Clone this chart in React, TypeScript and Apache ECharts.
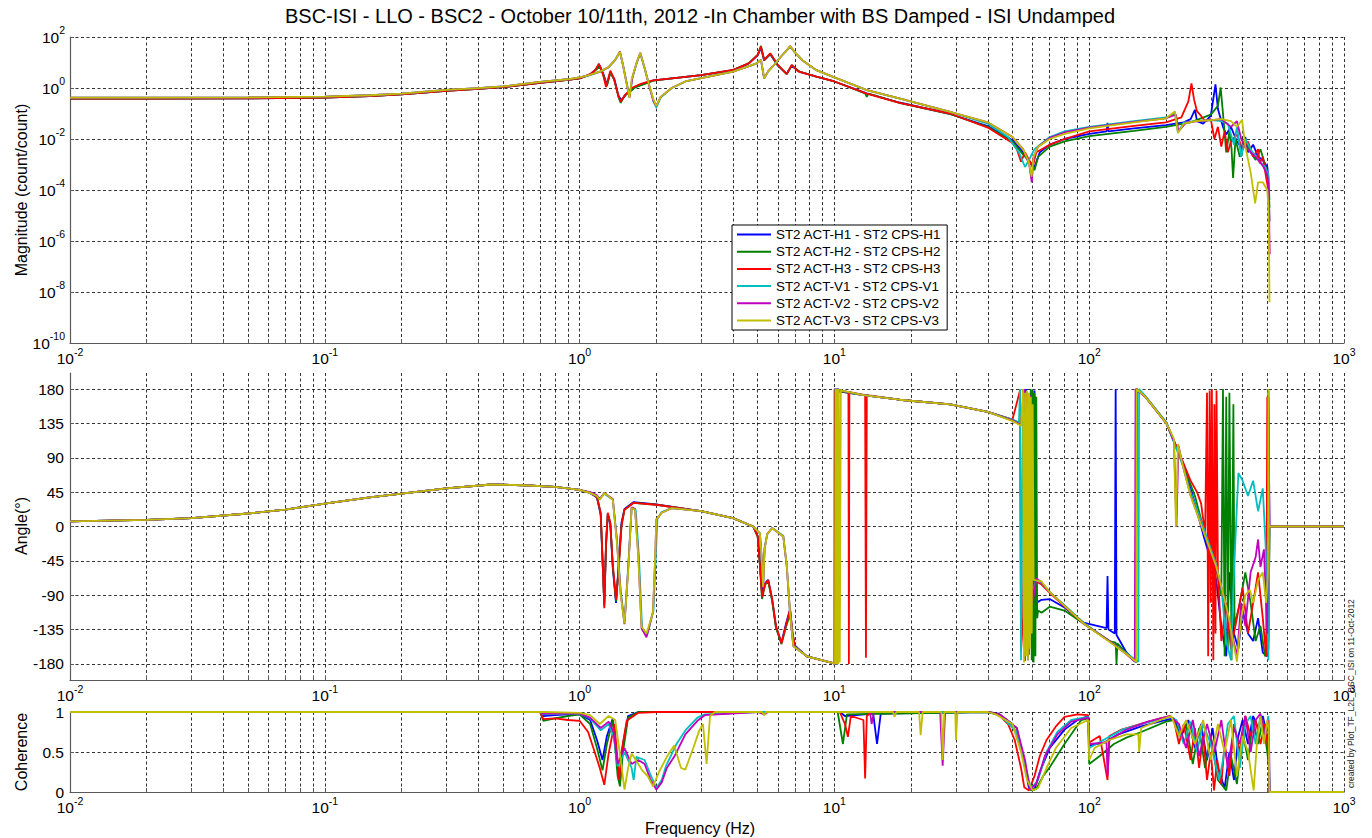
import React, { useEffect, useRef } from 'react';
import * as echarts from 'echarts';

const FONT = "'Liberation Sans', Arial, Helvetica, sans-serif";

const TITLE = 'BSC-ISI - LLO - BSC2 - October 10/11th, 2012 -In Chamber with BS Damped - ISI Undamped';
const STAMP = 'created by Plot_TF_L2L_BSC_ISI on 11-Oct-2012';

const SERIES_NAMES = [
  'ST2 ACT-H1 - ST2 CPS-H1',
  'ST2 ACT-H2 - ST2 CPS-H2',
  'ST2 ACT-H3 - ST2 CPS-H3',
  'ST2 ACT-V1 - ST2 CPS-V1',
  'ST2 ACT-V2 - ST2 CPS-V2',
  'ST2 ACT-V3 - ST2 CPS-V3',
];
const SERIES_COLORS = ['#0000ff', '#008000', '#ff0000', '#00bfbf', '#bf00bf', '#bfbf00'];

// Tick labels: decades of frequency (Hz) and magnitude, angle and coherence ticks
const FREQ_DECADES = [-2, -1, 0, 1, 2, 3];
const MAG_DECADES = [-10, -8, -6, -4, -2, 0, 2];
const ANGLE_TICKS = [-180, -135, -90, -45, 0, 45, 90, 135, 180];
const COH_TICKS = [0, 0.5, 1];

type Pt = [number, number];

// ---------- magnitude (count/count) vs frequency (Hz) ----------
const magLowH: Pt[] = [[0.01, 0.38], [0.02, 0.38], [0.05, 0.39], [0.1, 0.42], [0.15, 0.48], [0.2, 0.56], [0.3, 0.78], [0.4, 0.92], [0.5, 1.08], [0.7, 1.6], [0.9, 2.1], [1.0, 2.4]];
const magLowV: Pt[] = [[0.01, 0.42], [0.02, 0.42], [0.05, 0.43], [0.1, 0.46], [0.15, 0.52], [0.2, 0.6], [0.3, 0.84], [0.4, 0.98], [0.5, 1.15], [0.7, 1.75], [0.9, 2.2], [1.0, 2.6]];

const magH1: Pt[] = [...magLowH,
  [1.1, 3.4], [1.16, 5.5], [1.2, 7.5], [1.24, 3.5], [1.28, 1.3], [1.32, 4.2], [1.37, 2.2], [1.42, 0.5], [1.46, 0.33], [1.52, 0.55], [1.65, 1.1], [1.95, 2.0], [2.5, 2.6], [3.0, 3.2], [4.0, 5.0], [4.6, 9.0], [5.0, 19], [5.15, 38], [5.3, 12], [5.6, 21], [6.0, 7.5], [6.5, 3.6], [6.8, 7.5], [7.3, 4.3], [8.5, 2.8], [10, 1.8], [13.4, 0.62], [18, 0.27], [28, 0.1], [40, 0.032], [50, 0.009], [55, 0.003], [58, 0.0012], [61, 0.0008], [64, 0.003], [70, 0.006], [80, 0.01], [100, 0.016], [117, 0.02], [118, 0.043], [119, 0.02], [150, 0.026], [200, 0.035], [235, 0.045], [250, 0.06], [260, 0.14], [265, 0.05], [280, 0.04], [300, 0.08], [313, 1.4], [320, 0.15], [335, 0.03], [345, 0.015], [360, 0.03], [380, 0.008], [400, 0.004], [410, 0.012], [420, 0.003], [440, 0.006], [460, 0.002], [480, 0.0015], [500, 0.0008], [505, 0.0003], [510, 6e-6]];

const magH2: Pt[] = [...magLowH,
  [1.1, 3.3], [1.16, 5.2], [1.2, 7], [1.24, 3.2], [1.28, 1.2], [1.32, 4], [1.37, 2], [1.42, 0.45], [1.45, 0.26], [1.5, 0.5], [1.65, 1.05], [1.95, 1.95], [2.5, 2.6], [3.0, 3.2], [4.0, 5.0], [4.6, 9.2], [5.0, 20], [5.15, 45], [5.3, 12.5], [5.6, 22], [6.0, 7.8], [6.5, 3.5], [6.8, 7.8], [7.3, 4.4], [8.5, 2.8], [10, 1.8], [13.2, 0.62], [13.4, 0.45], [13.6, 0.6], [18, 0.26], [28, 0.1], [40, 0.03], [50, 0.008], [55, 0.0025], [59, 0.0012], [61, 0.0006], [63, 0.002], [70, 0.005], [80, 0.008], [100, 0.013], [150, 0.021], [200, 0.03], [250, 0.045], [300, 0.09], [320, 0.2], [328, 1.05], [335, 0.1], [345, 0.003], [355, 0.02], [362, 0.004], [367, 0.0003], [375, 0.01], [390, 0.002], [410, 0.008], [430, 0.003], [450, 0.0015], [470, 0.004], [490, 0.001], [505, 0.0002], [510, 2e-5]];

const magH3: Pt[] = [...magLowH,
  [1.1, 3.5], [1.15, 5], [1.19, 9], [1.23, 4], [1.27, 1.1], [1.32, 4.8], [1.36, 2.5], [1.42, 0.5], [1.45, 0.29], [1.5, 0.5], [1.6, 1.0], [1.75, 1.5], [1.94, 2.0], [2.5, 2.6], [3.0, 3.2], [4.0, 5.1], [4.65, 9.6], [5.0, 20], [5.15, 42], [5.3, 12.6], [5.6, 23], [6.0, 8], [6.5, 3.5], [6.8, 8], [7.2, 4.5], [8.5, 2.8], [10, 1.8], [13.4, 0.6], [18, 0.26], [28.4, 0.1], [40, 0.028], [50, 0.007], [52, 0.004], [54, 0.0013], [56, 0.003], [60, 0.0008], [62, 0.003], [70, 0.006], [80, 0.01], [100, 0.02], [150, 0.033], [200, 0.045], [230, 0.07], [245, 0.3], [252, 1.5], [258, 0.35], [265, 0.12], [275, 0.08], [285, 0.05], [300, 0.06], [310, 0.01], [320, 0.03], [330, 0.005], [340, 0.02], [350, 0.003], [360, 0.008], [380, 0.015], [400, 0.004], [420, 0.008], [440, 0.002], [460, 0.004], [467, 0.0011], [480, 0.002], [495, 0.0003], [505, 0.0001], [510, 3e-7]];

const magV1: Pt[] = [...magLowV,
  [1.1, 3.2], [1.2, 4.3], [1.3, 6.4], [1.38, 12.5], [1.44, 25], [1.48, 8], [1.53, 1.6], [1.57, 0.45], [1.61, 2.4], [1.67, 8.5], [1.73, 23], [1.8, 6], [1.88, 1.2], [1.95, 0.3], [2.0, 0.17], [2.08, 0.42], [2.3, 1.0], [2.6, 1.8], [3.0, 2.45], [4.0, 4.4], [4.6, 7], [4.95, 9.3], [5.15, 12.6], [5.3, 2.4], [5.5, 4.5], [5.8, 8], [6.2, 18], [6.5, 30], [6.7, 42], [7.0, 25], [7.5, 12], [8.5, 5], [10, 2.6], [13.4, 0.83], [17.8, 0.4], [28, 0.12], [40, 0.04], [48, 0.012], [53, 0.003], [56, 0.0008], [58, 0.0015], [61, 0.004], [70, 0.012], [80, 0.02], [100, 0.03], [150, 0.05], [200, 0.07], [217, 0.1], [223, 0.018], [235, 0.045], [260, 0.05], [300, 0.055], [330, 0.05], [350, 0.04], [370, 0.006], [380, 0.03], [395, 0.002], [410, 0.01], [430, 0.004], [450, 0.002], [470, 0.0012], [490, 0.0008], [505, 0.0004], [510, 4e-5]];

const magV2: Pt[] = [...magLowV,
  [1.1, 3.3], [1.2, 4.4], [1.3, 6.6], [1.38, 13], [1.44, 27], [1.48, 8], [1.53, 1.5], [1.57, 0.42], [1.61, 2.5], [1.67, 9], [1.73, 24], [1.8, 6], [1.88, 1.1], [1.95, 0.3], [2.0, 0.2], [2.08, 0.45], [2.3, 1.0], [2.6, 1.8], [3.0, 2.45], [4.0, 4.4], [4.6, 7], [4.95, 9.3], [5.15, 12.6], [5.3, 2.4], [5.5, 4.6], [5.8, 8], [6.2, 18], [6.5, 30], [6.7, 44], [7.0, 25], [7.5, 12], [8.5, 5], [10, 2.6], [13.4, 0.83], [17.8, 0.4], [28, 0.12], [40, 0.045], [50, 0.012], [55, 0.004], [58, 0.0012], [59.5, 0.0002], [60.5, 0.002], [63, 0.005], [70, 0.011], [80, 0.018], [100, 0.028], [150, 0.047], [200, 0.065], [219, 0.09], [224, 0.02], [240, 0.045], [270, 0.05], [300, 0.055], [330, 0.06], [360, 0.03], [380, 0.05], [395, 0.01], [410, 0.005], [430, 0.003], [450, 0.002], [480, 0.0009], [500, 0.0004], [508, 1e-4], [510, 3e-7]];

const magV3: Pt[] = [...magLowV,
  [1.1, 3.3], [1.2, 4.4], [1.3, 6.5], [1.38, 13], [1.44, 26], [1.48, 8], [1.52, 2], [1.55, 0.8], [1.57, 0.4], [1.6, 2.2], [1.67, 9], [1.73, 24], [1.8, 6], [1.88, 1.2], [1.95, 0.35], [2.0, 0.2], [2.08, 0.45], [2.3, 1.0], [2.6, 1.8], [3.0, 2.45], [4.0, 4.4], [4.6, 7], [4.95, 9.3], [5.15, 12.6], [5.3, 2.4], [5.5, 4.5], [5.8, 8], [6.2, 18], [6.5, 30], [6.7, 44], [7.0, 25], [7.5, 12], [8.5, 5], [10, 2.6], [13.4, 0.83], [17.8, 0.4], [28, 0.12], [40, 0.045], [50, 0.012], [55, 0.004], [58, 0.0012], [59.4, 0.00033], [60.5, 0.002], [63, 0.005], [70, 0.01], [80, 0.016], [100, 0.026], [150, 0.045], [200, 0.065], [217, 0.12], [223, 0.017], [235, 0.04], [260, 0.05], [300, 0.055], [330, 0.06], [360, 0.05], [380, 0.03], [398, 0.056], [410, 0.005], [430, 0.0005], [448, 3e-5], [460, 0.0002], [480, 0.0002], [500, 0.0001], [505, 2e-5], [508, 5e-7], [510, 4e-9]];

// ---------- phase (degrees) vs frequency (Hz) ----------
const phaseLow: Pt[] = [[0.01, 6.6], [0.02, 8.8], [0.03, 11], [0.05, 17], [0.07, 22], [0.1, 30], [0.15, 38], [0.2, 43], [0.3, 50], [0.45, 55], [0.6, 54], [0.8, 52], [1.0, 48]];

const phaseH1: Pt[] = [...phaseLow,
  [1.1, 44], [1.17, 38], [1.21, 15], [1.23, -45], [1.25, -100], [1.27, -25], [1.29, 16], [1.32, 3], [1.35, -55], [1.39, -100], [1.42, -55], [1.46, 5], [1.5, 23], [1.63, 32], [2.0, 29], [3.0, 20], [4.0, 11], [4.8, 0], [5.0, -13], [5.1, -48], [5.2, -88], [5.35, -74], [5.5, -70], [5.7, -96], [5.9, -132], [6.2, -152], [6.45, -128], [6.7, -108], [6.85, -140], [7.0, -156], [7.8, -170], [9.9, -179], [10.0, -180], [10.02, 180], [10.4, 177], [13, 172], [18, 166], [28.5, 160], [40, 150], [50, 139], [55, 132], [56.5, 180], [57.5, -175], [59, 170], [60, -150], [61, 178], [62, -100], [65, -96], [70, -95], [80, -106], [95, -126], [117, -133], [118, -65], [119, -135], [126, -140], [127, 180], [128, -142], [140, -165], [152, -177], [153.5, 180], [166, 170], [201, 136], [233, 84], [260, 30], [280, -10], [300, -45], [315, -70], [330, -130], [345, -170], [355, -60], [370, -140], [385, -160], [400, -110], [420, -140], [440, -150], [460, -120], [480, -165], [500, -170], [505, 180], [510, 0], [1000, 0]];

const phaseH2: Pt[] = [...phaseLow,
  [1.1, 44], [1.17, 39], [1.21, 17], [1.23, -42], [1.25, -104], [1.27, -22], [1.29, 17], [1.32, 4], [1.35, -52], [1.39, -98], [1.42, -58], [1.46, 2], [1.5, 22], [1.63, 31], [2.0, 28.5], [3.0, 20], [4.0, 11], [4.8, 0], [5.0, -13], [5.1, -50], [5.2, -95], [5.35, -76], [5.5, -72], [5.7, -98], [5.9, -133], [6.2, -154], [6.45, -132], [6.7, -115], [6.85, -142], [7.0, -157], [7.8, -170], [9.9, -179], [10.08, -180], [10.1, 180], [10.14, -180], [10.18, 180], [10.5, 177], [13, 172], [18, 166], [28.5, 160], [40, 150], [50, 140], [58, 130], [59, 180], [59.5, -175], [60, 178], [60.5, -178], [61, 175], [61.5, -170], [62, 170], [62.5, -120], [63, -110], [65, -113], [70, -105], [80, -110], [95, -127], [120, -150], [127, -152], [128, -180], [129, -153], [140, -166], [153, -178], [154, 180], [166, 170], [201, 135], [233, 82], [260, 40], [290, -20], [315, -55], [330, -90], [335, 180], [340, -170], [345, 170], [350, -160], [355, 175], [362, -175], [368, 160], [372, -130], [390, -100], [410, -60], [430, -100], [450, -150], [470, -130], [490, -170], [505, -160], [510, 0], [1000, 0]];

const phaseH3: Pt[] = [...phaseLow,
  [1.1, 44], [1.17, 39], [1.21, 18], [1.23, -40], [1.25, -107], [1.27, -20], [1.29, 18], [1.32, 5], [1.35, -50], [1.39, -96], [1.42, -60], [1.46, 0], [1.5, 22], [1.63, 31], [2.0, 28.5], [3.0, 20], [4.0, 11], [4.8, 0], [5.0, -13], [5.1, -50], [5.2, -92], [5.35, -75], [5.5, -70], [5.7, -95], [5.9, -130], [6.2, -153], [6.45, -130], [6.7, -109], [6.85, -140], [7.0, -157], [7.8, -170], [9.9, -179], [10.05, -180], [10.08, 180], [10.12, -180], [10.16, 178], [10.25, 177], [10.3, 2], [10.35, 177], [10.8, 177], [11.35, 176], [11.4, -180], [11.45, 176], [13.2, 172], [13.3, -172], [13.4, 172], [18, 166], [28.5, 160], [40, 150], [50, 140], [53.5, 178], [54, -164], [55, -120], [56, 178], [57, -150], [60, -80], [62, -72], [65, -76], [70, -87], [80, -105], [95, -127], [120, -150], [140, -167], [152, -177], [153, 180], [166, 170], [201, 135], [233, 85], [250, 60], [265, 45], [275, 30], [285, -10], [290, 175], [293, -170], [297, 178], [300, -100], [303, 180], [307, -175], [310, 160], [313, -140], [316, 178], [320, -60], [330, -150], [345, -100], [360, -160], [380, -120], [400, -80], [420, -140], [440, -100], [460, -60], [480, -120], [495, -170], [500, 170], [505, -150], [510, 0], [1000, 0]];

const phaseV1: Pt[] = [...phaseLow,
  [1.1, 44], [1.17, 40], [1.2, 36], [1.25, 43], [1.35, 35], [1.4, -15], [1.45, -85], [1.5, -125], [1.55, -55], [1.6, 24], [1.66, 22], [1.71, -40], [1.76, -135], [1.84, -142], [1.95, -110], [1.99, -40], [2.02, 10], [2.1, 19], [2.3, 24], [3.0, 20], [4.0, 11], [4.8, 0], [5.1, -9], [5.18, -42], [5.25, -78], [5.32, -28], [5.45, -10], [5.7, -2], [6.3, -12], [6.5, -52], [6.7, -113], [6.9, -156], [7.8, -170], [9.9, -179], [10.3, -180], [10.32, 180], [10.6, 178], [13, 172], [18, 166], [28.5, 160], [40, 150], [50, 140], [53, 135], [53.5, 180], [54, -175], [55, 178], [56, -168], [57, 170], [58, -120], [59, -90], [62, -70], [65, -74], [70, -86], [80, -103], [95, -126], [120, -150], [140, -166], [156, -177], [157, 180], [166, 171], [201, 136], [233, 80], [250, 45], [280, 0], [315, -50], [330, -80], [345, -150], [360, -175], [370, -60], [385, 70], [400, 60], [420, 40], [440, 60], [460, 20], [480, 50], [495, -40], [505, -175], [510, 0], [1000, 0]];

const phaseV2: Pt[] = [...phaseLow,
  [1.1, 45], [1.17, 41], [1.2, 36], [1.25, 44], [1.35, 36], [1.4, -18], [1.45, -88], [1.5, -128], [1.55, -58], [1.6, 25], [1.65, 23], [1.7, -38], [1.75, -133], [1.83, -145], [1.94, -112], [1.98, -42], [2.0, 9], [2.1, 18], [2.3, 24], [3.0, 20], [4.0, 11], [4.8, 0], [5.1, -9], [5.18, -41], [5.25, -80], [5.32, -29], [5.45, -10], [5.7, -2], [6.3, -13], [6.5, -51], [6.7, -114], [6.9, -157], [7.8, -170], [9.9, -179], [10.15, -180], [10.17, 180], [10.22, -180], [10.24, 180], [10.6, 178], [13, 172], [18, 166], [28.5, 160], [40, 150], [50, 139], [54, 133], [55.5, 180], [56, -176], [57, 176], [58, -168], [59, 172], [60, -100], [62, -68], [65, -73], [70, -86], [80, -104], [95, -127], [120, -150], [140, -167], [151, -177], [152, 180], [166, 170], [201, 135], [215, 112], [220, 0], [224, 106], [233, 80], [250, 41], [280, -5], [315, -53], [350, -114], [380, -170], [395, -100], [410, -130], [430, -60], [450, -40], [460, -17], [470, -53], [485, -30], [500, -140], [505, 170], [510, 0], [1000, 0]];

const phaseV3: Pt[] = [...phaseLow,
  [1.1, 44], [1.17, 40], [1.2, 35], [1.25, 44], [1.35, 35], [1.4, -20], [1.45, -90], [1.5, -127], [1.55, -60], [1.6, 24], [1.65, 22], [1.7, -40], [1.75, -131], [1.83, -140], [1.94, -113], [1.98, -40], [2.0, 9], [2.1, 18], [2.3, 24], [3.0, 20], [4.0, 11], [4.8, 0], [5.1, -9], [5.18, -40], [5.25, -79], [5.32, -30], [5.45, -10], [5.7, -2], [6.3, -13], [6.5, -50], [6.7, -114], [6.9, -157], [7.8, -170], [9.9, -179], [10.05, -180], [10.1, 180], [10.15, -180], [10.2, 180], [10.25, -180], [10.3, 180], [10.35, -180], [10.4, 180], [10.5, -178], [10.6, 179], [10.7, 178], [13, 172], [18, 166], [28.5, 160], [40, 150], [50, 138], [54, 132], [55, 180], [55.5, -178], [56, 175], [56.5, -170], [57, 178], [57.5, -175], [58, 175], [58.5, -160], [59, 170], [59.5, -140], [60, 160], [60.5, -70], [65, -72], [70, -86], [80, -104], [95, -127], [120, -151], [140, -167], [153, -177], [153.5, 180], [166, 170], [201, 135], [215, 115], [219, 0], [223, 108], [233, 80], [250, 40], [280, -5], [315, -52], [350, -113], [380, -177], [395, -120], [410, -90], [427, -83], [440, -100], [460, -70], [480, -60], [495, -100], [503, -60], [505, 180], [507, 0], [1000, 0]];

// ---------- coherence vs frequency (Hz) ----------
const cohLow: Pt[] = [[0.01, 1], [0.7, 1]];

const cohH1: Pt[] = [...cohLow,
  [0.72, 0.95], [0.8, 0.96], [0.9, 0.97], [1.0, 0.97], [1.1, 0.9], [1.17, 0.65], [1.23, 0.4], [1.28, 0.7], [1.35, 0.92], [1.41, 0.3], [1.44, 0.15], [1.48, 0.6], [1.55, 0.95], [1.7, 1], [10.5, 1], [11, 0.95], [14.2, 0.98], [14.7, 0.6], [15.2, 0.98], [40, 1], [44, 0.98], [50, 0.85], [55, 0.45], [58, 0.05], [61, 0.03], [64, 0.25], [70, 0.55], [80, 0.78], [90, 0.9], [99, 0.95], [100, 0.58], [115, 0.62], [130, 0.72], [160, 0.82], [200, 0.9], [215, 0.92], [230, 0.7], [245, 0.9], [260, 0.55], [275, 0.85], [290, 0.4], [305, 0.8], [320, 0.3], [340, 0.05], [355, 0.5], [370, 0.15], [385, 0.7], [400, 0.9], [420, 0.6], [440, 0.95], [460, 0.8], [480, 0.95], [500, 0.7], [508, 0.4], [510, 0], [1000, 0]];

const cohH2: Pt[] = [...cohLow,
  [0.72, 0.89], [0.8, 0.92], [0.9, 0.95], [1.0, 0.97], [1.1, 0.85], [1.17, 0.55], [1.23, 0.27], [1.28, 0.6], [1.35, 0.9], [1.41, 0.2], [1.44, 0.07], [1.48, 0.5], [1.55, 0.93], [1.7, 1], [10.3, 1], [10.8, 0.6], [11.2, 0.97], [40, 1], [44, 0.97], [52, 0.8], [56, 0.3], [59, 0.02], [62, 0.04], [66, 0.2], [70, 0.31], [80, 0.6], [93, 0.9], [99, 0.92], [100, 0.35], [110, 0.45], [125, 0.6], [140, 0.68], [160, 0.75], [200, 0.88], [215, 0.9], [225, 0.7], [240, 0.85], [255, 0.35], [270, 0.8], [285, 0.3], [300, 0.7], [320, 0.15], [345, 0.02], [360, 0.45], [380, 0.1], [400, 0.75], [420, 0.4], [440, 0.9], [460, 0.6], [480, 0.9], [500, 0.5], [508, 0.3], [510, 0], [1000, 0]];

const cohH3: Pt[] = [...cohLow,
  [0.72, 0.91], [0.8, 0.92], [0.9, 0.9], [1.0, 0.89], [1.08, 0.75], [1.13, 0.56], [1.2, 0.3], [1.25, 0.09], [1.3, 0.48], [1.37, 0.85], [1.41, 0.4], [1.43, 0.15], [1.46, 0.5], [1.53, 0.89], [1.7, 0.99], [2, 1], [10.5, 1], [11.0, 0.85], [11.3, 0.69], [11.6, 0.95], [13.0, 0.9], [13.2, 0.17], [13.4, 0.95], [14, 1], [40, 1], [44, 0.97], [48, 0.85], [51, 0.65], [54, 0.3], [55.6, 0.06], [58, 0.02], [61, 0.2], [64, 0.45], [68, 0.65], [74, 0.82], [80, 0.94], [90, 0.97], [99, 0.96], [100, 0.62], [110, 0.7], [118, 0.15], [120, 0.7], [134, 0.78], [163, 0.86], [190, 0.92], [207, 0.95], [215, 0.9], [225, 0.6], [235, 0.85], [250, 0.4], [260, 0.8], [270, 0.3], [280, 0.7], [290, 0.15], [300, 0.5], [309, 0.02], [318, 0.4], [330, 0.1], [340, 0.6], [355, 0.2], [370, 0.85], [390, 0.5], [410, 0.95], [430, 0.7], [450, 0.9], [470, 0.6], [490, 0.85], [505, 0.5], [510, 0], [1000, 0]];

const cohV1: Pt[] = [...cohLow,
  [0.72, 0.97], [0.9, 0.98], [1.0, 0.98], [1.1, 0.92], [1.21, 0.77], [1.3, 0.85], [1.36, 0.7], [1.41, 0.32], [1.5, 0.5], [1.6, 0.3], [1.63, 0.15], [1.67, 0.44], [1.8, 0.4], [1.89, 0.23], [2.0, 0.05], [2.1, 0.15], [2.18, 0.32], [2.4, 0.6], [2.6, 0.77], [2.9, 0.93], [3.1, 0.97], [5, 1], [40, 1], [45, 0.95], [52, 0.75], [56, 0.35], [59, 0.04], [63, 0.15], [68, 0.5], [75, 0.75], [85, 0.9], [99, 0.94], [100, 0.55], [115, 0.66], [135, 0.78], [165, 0.86], [207, 0.94], [220, 0.9], [235, 0.6], [250, 0.88], [265, 0.5], [280, 0.85], [300, 0.6], [324, 0.15], [335, 0.4], [350, 0.85], [370, 0.95], [390, 0.3], [410, 0.85], [430, 0.95], [450, 0.6], [470, 0.95], [490, 0.7], [505, 0.95], [508, 0.6], [510, 0], [1000, 0]];

const cohV2: Pt[] = [...cohLow,
  [0.72, 0.98], [1.0, 0.98], [1.1, 0.93], [1.21, 0.8], [1.3, 0.88], [1.36, 0.75], [1.41, 0.35], [1.5, 0.55], [1.6, 0.35], [1.7, 0.4], [1.8, 0.35], [1.9, 0.15], [2.0, 0.03], [2.1, 0.12], [2.2, 0.3], [2.35, 0.44], [2.6, 0.72], [2.9, 0.89], [3.1, 0.96], [5, 1], [5.3, 0.97], [5.5, 1], [13.8, 1], [14, 0.85], [14.3, 1], [26, 1], [26.6, 0.33], [27.2, 1], [40, 1], [45, 0.96], [52, 0.8], [56, 0.4], [58.5, 0.03], [62, 0.1], [67, 0.45], [75, 0.72], [85, 0.88], [99, 0.93], [100, 0.6], [117, 0.62], [118, 0.2], [120, 0.65], [140, 0.78], [170, 0.88], [207, 0.95], [225, 0.85], [240, 0.55], [255, 0.9], [270, 0.45], [290, 0.85], [310, 0.5], [330, 0.9], [350, 0.3], [370, 0.8], [390, 0.6], [410, 0.95], [430, 0.5], [450, 0.9], [470, 0.98], [490, 0.7], [505, 0.9], [509, 0.5], [510, 0], [1000, 0]];

const cohV3: Pt[] = [...cohLow,
  [0.72, 1], [1.0, 0.99], [1.1, 0.96], [1.2, 0.85], [1.3, 0.95], [1.38, 0.9], [1.45, 0.4], [1.5, 0.03], [1.55, 0.3], [1.6, 0.48], [1.7, 0.35], [1.76, 0.27], [1.85, 0.2], [1.94, 0.07], [2.05, 0.25], [2.2, 0.44], [2.35, 0.58], [2.5, 0.3], [2.6, 0.28], [2.8, 0.56], [2.95, 0.77], [3.05, 0.85], [3.15, 0.35], [3.25, 0.95], [3.4, 1], [5.2, 1], [5.3, 0.96], [5.4, 1], [17, 1], [17.2, 0.94], [17.5, 1], [21.5, 1], [21.8, 0.71], [22.2, 1], [26.3, 1], [26.6, 0.4], [27, 1], [29.8, 1], [30, 0.65], [30.4, 1], [40, 1], [43, 0.97], [50, 0.85], [54, 0.5], [57, 0.15], [60, 0.02], [63, 0.05], [68, 0.3], [74, 0.55], [85, 0.8], [99, 0.9], [100, 0.4], [105, 0.55], [120, 0.65], [140, 0.72], [156, 0.72], [157, 0.5], [160, 0.8], [190, 0.9], [210, 0.95], [225, 0.7], [240, 0.9], [260, 0.6], [280, 0.9], [300, 0.4], [320, 0.85], [340, 0.5], [360, 0.9], [380, 0.2], [400, 0.7], [420, 0.5], [442, 0.02], [455, 0.6], [470, 0.95], [485, 0.6], [500, 0.9], [506, 0.8], [509, 0.1], [510, 0], [1000, 0]];

const MAG = [magH1, magH2, magH3, magV1, magV2, magV3];
const PHASE = [phaseH1, phaseH2, phaseH3, phaseV1, phaseV2, phaseV3];
const COH = [cohH1, cohH2, cohH3, cohV1, cohV2, cohV3];

const AXIS_GRAY = '#5a5a5a';
const GRID_LINE = { color: '#000', width: 1, type: [3, 2.5] as number[], opacity: 0.8 };
const TICK_FONT = 15.5;

// "10" with a raised exponent
const POW_RICH = {
  b: { fontSize: TICK_FONT, fontFamily: FONT, color: '#000', verticalAlign: 'middle' },
  e: { fontSize: 10.5, fontFamily: FONT, color: '#000', verticalAlign: 'middle', padding: [0, 0, 14, 0] },
};
const powLabel = (v: number) => `{b|10}{e|${Math.round(v)}}`;

// Frequency grid lines at 1..9 x every decade
const freqGrid: number[] = [];
for (let d = FREQ_DECADES[0]; d < FREQ_DECADES[FREQ_DECADES.length - 1]; d++) {
  for (let k = 1; k < 10; k++) freqGrid.push(d + Math.log10(k));
}
freqGrid.push(FREQ_DECADES[FREQ_DECADES.length - 1]);

const GRIDS = [
  { left: 70, top: 37, width: 1274, height: 306 },
  { left: 70, top: 373, width: 1274, height: 307 },
  { left: 70, top: 712, width: 1274, height: 80 },
];

// Legend key: a plain horizontal stroke
const LEGEND_LINE_ICON = 'path://M0,0 H34 V2 H0 Z';

function freqAxis(gridIndex: number) {
  return {
    type: 'value',
    gridIndex,
    min: FREQ_DECADES[0],
    max: FREQ_DECADES[FREQ_DECADES.length - 1],
    axisLine: { show: true, onZero: false, lineStyle: { color: AXIS_GRAY, width: 1.2 } },
    axisTick: { show: true, inside: true, length: 4, customValues: freqGrid, lineStyle: { color: AXIS_GRAY } },
    axisLabel: { customValues: FREQ_DECADES, formatter: powLabel, rich: POW_RICH, margin: 3, color: '#000' },
    splitLine: { show: true, lineStyle: GRID_LINE },
  };
}

function buildOption() {
  const series: any[] = [];
  [MAG, PHASE, COH].forEach((panel, gi) => {
    panel.forEach((pts, si) => {
      series.push({
        type: 'line',
        name: SERIES_NAMES[si],
        xAxisIndex: gi,
        yAxisIndex: gi,
        data: pts.map(([f, v]) => [Math.log10(f), gi === 0 ? Math.log10(v) : v]),
        symbol: 'none',
        showSymbol: false,
        silent: true,
        lineStyle: { color: SERIES_COLORS[si], width: 1.8 },
        itemStyle: { color: SERIES_COLORS[si] },
        emphasis: { disabled: true },
      });
    });
  });

  const nameText = (text: string, x: number, y: number, rotation = 0, size = 16) => ({
    type: 'text',
    x,
    y,
    rotation,
    silent: true,
    style: { text, align: 'center', verticalAlign: 'middle', fontSize: size, fontFamily: FONT, fill: '#000' },
  });

  return {
    animation: false,
    backgroundColor: '#fff',
    grid: GRIDS.map((g) => ({ ...g, containLabel: false })),
    xAxis: [freqAxis(0), freqAxis(1), freqAxis(2)],
    yAxis: [
      {
        type: 'value', gridIndex: 0,
        min: MAG_DECADES[0], max: MAG_DECADES[MAG_DECADES.length - 1], interval: 2,
        axisLine: { show: true, onZero: false, lineStyle: { color: AXIS_GRAY, width: 1.2 } },
        axisTick: { show: true, inside: true, length: 4, lineStyle: { color: AXIS_GRAY } },
        axisLabel: { formatter: powLabel, rich: POW_RICH, margin: 5, color: '#000' },
        splitLine: { show: true, lineStyle: GRID_LINE },
      },
      {
        type: 'value', gridIndex: 1, min: -201, max: 201,
        axisLine: { show: true, onZero: false, lineStyle: { color: AXIS_GRAY, width: 1.2 } },
        axisTick: { show: true, inside: true, length: 4, customValues: ANGLE_TICKS, lineStyle: { color: AXIS_GRAY } },
        axisLabel: { customValues: ANGLE_TICKS, margin: 6, color: '#000', fontSize: TICK_FONT, fontFamily: FONT },
        splitLine: { show: true, lineStyle: GRID_LINE },
      },
      {
        type: 'value', gridIndex: 2, min: 0, max: 1, interval: 0.5,
        axisLine: { show: true, onZero: false, lineStyle: { color: AXIS_GRAY, width: 1.2 } },
        axisTick: { show: true, inside: true, length: 4, customValues: COH_TICKS, lineStyle: { color: AXIS_GRAY } },
        axisLabel: { customValues: COH_TICKS, margin: 6, color: '#000', fontSize: TICK_FONT, fontFamily: FONT },
        splitLine: { show: true, lineStyle: GRID_LINE },
      },
    ],
    legend: {
      data: SERIES_NAMES.map((name) => ({ name, icon: LEGEND_LINE_ICON })),
      orient: 'vertical',
      left: 732,
      top: 225,
      itemWidth: 34,
      itemHeight: 14,
      itemGap: 4.2,
      padding: [3, 6, 3, 5],
      backgroundColor: '#fff',
      borderColor: '#000',
      borderWidth: 1,
      selectedMode: false,
      textStyle: { fontFamily: FONT, fontSize: 13.4, color: '#000' },
    },
    graphic: [
      nameText(TITLE, 700, 16, 0, 20),
      nameText('Magnitude (count/count)', 21, 190, Math.PI / 2),
      nameText('Angle(°)', 21, 526, Math.PI / 2),
      nameText('Coherence', 21, 752, Math.PI / 2),
      nameText('Frequency (Hz)', 700, 828),
      {
        type: 'text', x: 1351, y: 788, rotation: Math.PI / 2, silent: true,
        style: { text: STAMP, align: 'left', verticalAlign: 'middle', fontSize: 8.5, fontFamily: FONT, fill: '#222' },
      },
    ],
    series,
  };
}

export default function App() {
  const ref = useRef<HTMLDivElement>(null);
  useEffect(() => {
    if (!ref.current) return;
    const chart = echarts.init(ref.current, null, { renderer: 'svg' });
    chart.setOption(buildOption() as any);
    return () => chart.dispose();
  }, []);
  return (
    <div
      ref={ref}
      style={{ position: 'fixed', left: 0, top: 0, width: 1372, height: 838, background: '#fff' }}
    />
  );
}
